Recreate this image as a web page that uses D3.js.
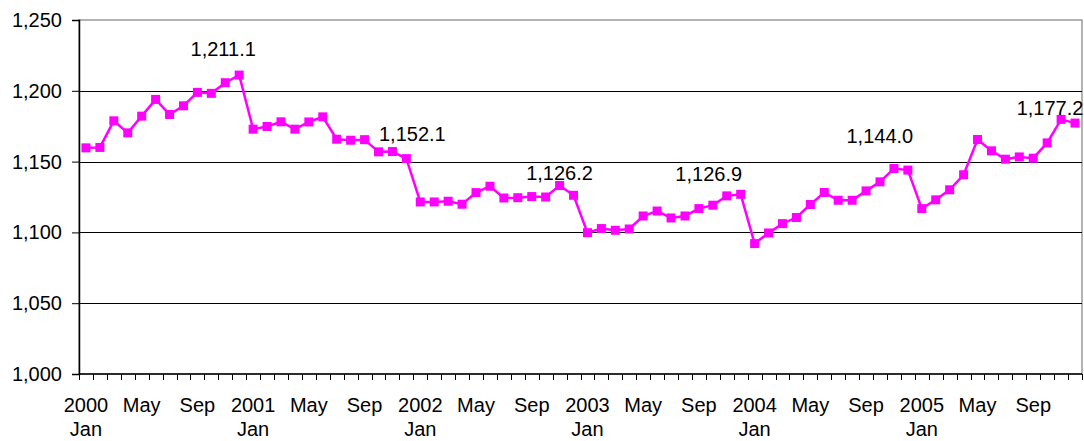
<!DOCTYPE html>
<html>
<head>
<meta charset="utf-8">
<script src="https://cdn.jsdelivr.net/npm/d3@7"></script>
<style>
  body { margin: 0; background: #fff; }
  text { font-family: "Liberation Sans", Arial, sans-serif; font-size: 20px; fill: #000; }
</style>
</head>
<body>
<svg width="1084" height="441"></svg>
<script>
// monthly values, Jan 2000 .. Dec 2005
const years = [2000, 2001, 2002, 2003, 2004, 2005];
const monthNames = ['Jan', 'Feb', 'Mar', 'Apr', 'May', 'Jun', 'Jul', 'Aug', 'Sep', 'Oct', 'Nov', 'Dec'];
const values = [
  1159.7, 1160.0, 1178.8, 1170.3, 1182.1, 1193.9, 1183.3, 1189.4, 1198.9, 1198.2, 1205.7, 1211.1,
  1172.9, 1174.8, 1178.1, 1172.9, 1178.0, 1181.6, 1165.8, 1165.1, 1165.5, 1156.9, 1157.1, 1152.1,
  1121.5, 1121.5, 1122.0, 1119.9, 1128.1, 1132.6, 1124.3, 1124.5, 1125.3, 1125.0, 1133.1, 1126.2,
  1099.8, 1102.7, 1101.5, 1102.4, 1111.6, 1115.1, 1110.2, 1111.6, 1116.8, 1119.2, 1125.8, 1126.9,
  1092.1, 1099.6, 1106.2, 1110.5, 1119.7, 1128.2, 1122.7, 1122.7, 1129.3, 1135.7, 1145.1, 1144.0,
  1116.8, 1123.0, 1130.1, 1140.7, 1165.6, 1157.6, 1151.7, 1153.3, 1152.4, 1163.2, 1179.8, 1177.2
];
const labelledIdx = [11, 23, 35, 47, 59, 71];
const yTicks = [1000, 1050, 1100, 1150, 1200, 1250];

// label placement (style only): offset from the point
const labelDx = [-16, 6, -14, -32, -28, -25];
const labelDy = [-19, -18, -15, -13, -27, -8];

const months = [];
years.forEach(y => monthNames.forEach(m => months.push(y + '-' + m)));
const data = months.map((k, i) => ({key: k, i: i, value: values[i]}));

const svg = d3.select('svg');
const margin = {top: 20, right: 2, bottom: 67, left: 79},
    width = +svg.attr('width') - margin.left - margin.right,
    height = +svg.attr('height') - margin.top - margin.bottom;

const g = svg.append('g').attr('transform', `translate(${margin.left}, ${margin.top})`);

const x = d3.scaleBand().domain(months).range([0, width]);
const y = d3.scaleLinear().domain([1000, 1250]).range([height, 0]);
const xc = d => x(d.key) + x.bandwidth() / 2;

// plot border (grey)
g.append('rect')
    .attr('x', 0).attr('y', 0)
    .attr('width', width).attr('height', height)
    .attr('fill', 'none').attr('stroke', '#808080').attr('stroke-width', 1.2);

// gridlines
g.append('g')
  .selectAll('line')
  .data(yTicks.filter(t => t > 1000 && t < 1250))
  .enter().append('line')
    .attr('x1', 0).attr('x2', width)
    .attr('y1', d => Math.round(y(d)) + 0.5).attr('y2', d => Math.round(y(d)) + 0.5)
    .attr('stroke', '#000').attr('stroke-width', 1);

// y axis
const yAxis = g.append('g')
    .call(d3.axisLeft(y).tickValues(yTicks).tickSize(7).tickPadding(10)
      .tickFormat(d3.format(',')));
yAxis.select('.domain').attr('stroke', '#000').attr('stroke-width', 1.5);
yAxis.selectAll('.tick line').attr('stroke', '#000');
yAxis.selectAll('text').attr('font-size', 20).attr('font-family', '"Liberation Sans", Arial, sans-serif');

// x axis: ticks at month boundaries
const xAxisG = g.append('g').attr('transform', `translate(0, ${height})`);
xAxisG.append('line')
    .attr('x1', 0).attr('x2', width).attr('y1', 0).attr('y2', 0)
    .attr('stroke', '#000').attr('stroke-width', 1.5);
xAxisG.selectAll('.mtick')
  .data(d3.range(months.length + 1))
  .enter().append('line')
    .attr('x1', i => Math.round(i * x.step()) + 0.5)
    .attr('x2', i => Math.round(i * x.step()) + 0.5)
    .attr('y1', 0).attr('y2', 6)
    .attr('stroke', '#000');

const xLabels = data.filter(d => d.i % 4 === 0);
xAxisG.selectAll('.lab1')
  .data(xLabels)
  .enter().append('text')
    .attr('x', xc).attr('y', 38)
    .attr('text-anchor', 'middle')
    .text(d => d.i % 12 === 0 ? years[d.i / 12] : monthNames[d.i % 12]);
xAxisG.selectAll('.lab2')
  .data(xLabels.filter(d => d.i % 12 === 0))
  .enter().append('text')
    .attr('x', xc).attr('y', 62)
    .attr('text-anchor', 'middle')
    .text('Jan');

// line
const line = d3.line().x(xc).y(d => y(d.value));
g.append('path')
    .datum(data)
    .attr('d', line)
    .attr('fill', 'none')
    .attr('stroke', '#ff00ff')
    .attr('stroke-width', 2.5);

// markers
g.append('g')
  .selectAll('rect')
  .data(data)
  .enter().append('rect')
    .attr('x', d => xc(d) - 4.5)
    .attr('y', d => y(d.value) - 4.5)
    .attr('width', 9).attr('height', 9)
    .attr('fill', '#ff00ff');

// data labels
const fmt = d3.format(',.1f');
svg.append('g')
  .attr('transform', `translate(${margin.left}, ${margin.top})`)
  .selectAll('text')
  .data(labelledIdx.map((idx, k) => ({d: data[idx], k: k})))
  .enter().append('text')
    .attr('x', o => xc(o.d) + labelDx[o.k])
    .attr('y', o => y(o.d.value) + labelDy[o.k])
    .attr('text-anchor', 'middle')
    .text(o => fmt(o.d.value));
</script>
</body>
</html>
